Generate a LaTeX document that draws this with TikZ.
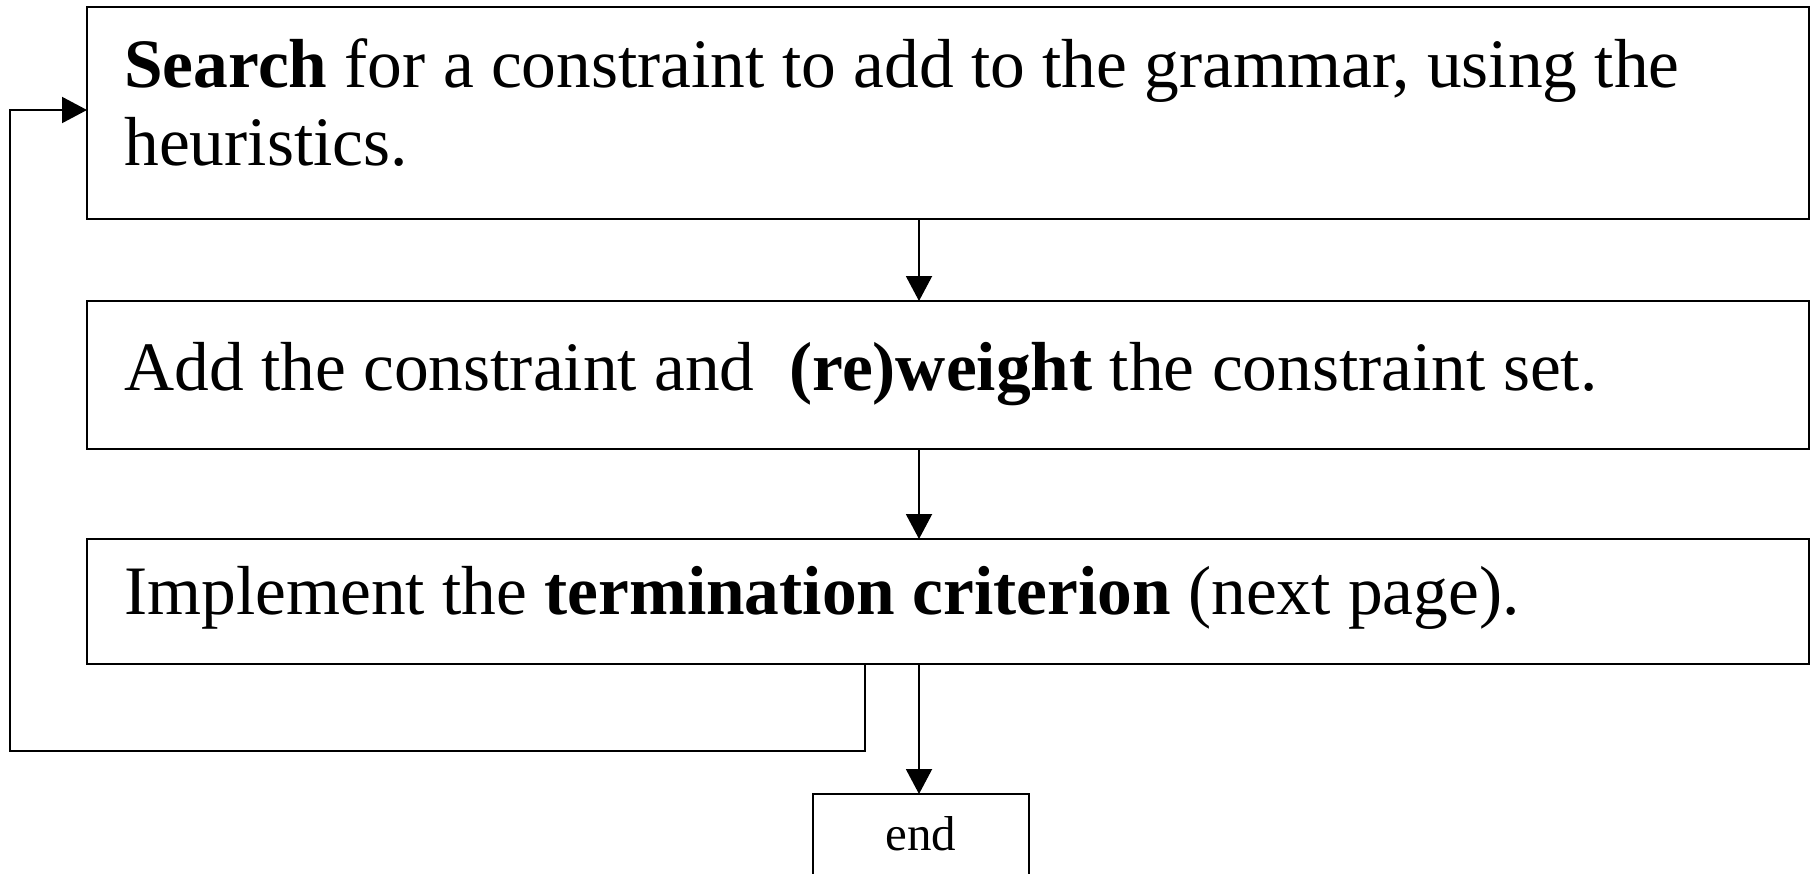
\documentclass[tikz,border=0pt]{standalone}
\usepackage{fontspec}
\setmainfont{Liberation Serif}
\usetikzlibrary{arrows.meta}
\begin{document}
\begin{tikzpicture}[x=0.5pt,y=-0.5pt,
  box/.style={draw, line width=1pt, rectangle, inner sep=0pt, outer sep=0pt},
  txt/.style={anchor=base west, inner sep=0pt, font=\fontsize{34.7}{40}\selectfont},
  conn/.style={line width=1pt, -{Triangle[length=12.5pt,width=13pt]}},
  wire/.style={line width=1pt}]
\useasboundingbox (0,0) rectangle (1813,873);
\clip (0,0) rectangle (1813,873);
\node[box, minimum width=861pt, minimum height=106pt] (box1) at (948,113) {};
\node[box, minimum width=861pt, minimum height=74pt] (box2) at (948,375) {};
\node[box, minimum width=861pt, minimum height=62.5pt] (box3) at (948,601.5) {};
\node[box, minimum width=108pt, minimum height=60pt, anchor=north] (endbox) at (921,794) {};
\node[txt] (t1a) at (124,87) {\textbf{Search} for a constraint to add to the grammar, using the};
\node[txt] (t1b) at (124,165) {heuristics.};
\node[txt] (t2) at (124,390) {Add the constraint and~ \textbf{(re)weight} the constraint set.};
\node[txt] (t3) at (124,614) {Implement the \textbf{termination criterion} (next page).};
\node[anchor=base, inner sep=0pt, font=\fontsize{24.5}{28}\selectfont] (tend) at (921,850) {end};
\coordinate (axis) at (919,0);
\coordinate (loopr) at (865,751);
\coordinate (loopl) at (10,751);
\coordinate (entry) at (87,110);
\draw[conn] (box1.south -| axis) -- (box2.north -| axis);
\draw[conn] (box2.south -| axis) -- (box3.north -| axis);
\draw[conn] (box3.south -| axis) -- (endbox.north -| axis);
\draw[conn] (box3.south -| loopr) -- (loopr) -- (loopl) |- (box1.west |- entry);
\end{tikzpicture}
\end{document}
